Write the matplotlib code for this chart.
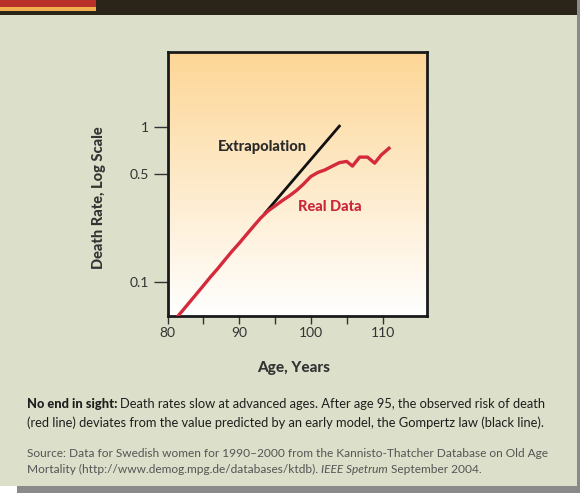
import numpy as np
import matplotlib.pyplot as plt
from matplotlib.patches import Rectangle

plt.rcParams['font.family'] = ['Lato', 'DejaVu Sans']

# Swedish women 1990-2000, death rate by age
ages = [81, 82, 83, 84, 85, 86, 87, 88, 89, 90, 91, 92, 93, 94, 95, 96, 97,
        98, 99, 100, 101, 102, 103, 104, 105, 105.8, 106.8, 107.9, 108.9, 109.8, 110.9]
death_rate = [0.057, 0.0646, 0.0734, 0.0834, 0.0948, 0.108, 0.122, 0.139, 0.158, 0.178,
              0.202, 0.229, 0.259, 0.287, 0.31, 0.335, 0.36, 0.39, 0.43,
              0.48, 0.51, 0.53, 0.56, 0.59, 0.60, 0.56, 0.64, 0.64, 0.585, 0.66, 0.73]

# Gompertz extrapolation (black line)
extrap_ages = [93.5, 104.1]
extrap_rate = [0.275, 1.03]

x_ticks = [80, 85, 90, 95, 100, 105, 110]
x_labels = ['80', '', '90', '', '100', '', '110']
y_ticks = [0.1, 0.5, 1]
y_labels = ['0.1', '0.5', '1']

W, H = 580, 493
fig = plt.figure(figsize=(W / 100, H / 100), dpi=100)
fig.patch.set_facecolor('#dcdfc9')


def px_rect(x0, y0, x1, y1, color):
    # rectangle in pixel coords measured from the top left
    fig.add_artist(Rectangle((x0 / W, 1 - y1 / H), (x1 - x0) / W, (y1 - y0) / H,
                             transform=fig.transFigure, color=color, lw=0, zorder=0))


# header bar and page edges
px_rect(0, 0, 578, 15, '#2b2519')
px_rect(0, 0, 96, 7, '#b8322a')
px_rect(0, 7, 96, 11, '#f0b050')
px_rect(577, 0, 580, 493, '#8a8a8a')
px_rect(0, 486, 17, 493, '#ffffff')
px_rect(17, 486, 580, 493, '#8a8a8a')

ax = fig.add_axes([167.5 / W, 1 - 316 / H, (427 - 167.5) / W, (316 - 52) / H])
ax.set_yscale('log')
ax.set_xlim(80, 116.2)
ax.set_ylim(0.0604, 3.05)

# peach-to-white gradient background
grad = np.linspace(0, 1, 256).reshape(-1, 1)
top = np.array([253, 214, 150]) / 255
bot = np.array([255, 255, 255]) / 255
img = top * (1 - grad[..., None]) + bot * grad[..., None]
img = np.repeat(img, 2, axis=1)
ax.imshow(img, extent=[0, 1, 0, 1], transform=ax.transAxes, aspect='auto', zorder=0)

ax.plot(extrap_ages, extrap_rate, color='#111111', lw=2.0, zorder=3, solid_capstyle='butt')
ax.plot(ages, death_rate, color='#d42a3c', lw=2.4, zorder=4, solid_joinstyle='round')

ax.text(93.3, 0.745, 'Extrapolation', fontsize=10.5, fontweight='black', color='#2a2a2a',
        ha='center', va='center')
ax.text(102.6, 0.305, 'Real Data', fontsize=10.5, fontweight='black', color='#c8283a',
        ha='center', va='center')

ax.set_xticks(x_ticks)
ax.set_xticklabels(x_labels)
ax.set_yticks(y_ticks)
ax.set_yticklabels(y_labels)
ax.minorticks_off()
ax.tick_params(axis='x', direction='out', length=6, width=1, color='#333333', labelsize=10,
               labelcolor='#333333', pad=2)
ax.tick_params(axis='y', direction='out', length=10, width=1, color='#333333', labelsize=10,
               labelcolor='#333333', pad=3)
for s in ax.spines.values():
    s.set_linewidth(2)
    s.set_color('#1a1a1a')

ax.set_xlabel('Age, Years', fontsize=11, fontweight='black', color='#333333')
ax.xaxis.set_label_coords(0.488, -0.17)
ax.set_ylabel('Death Rate, Log Scale', fontsize=10.5, fontweight='black', color='#333333')
ax.yaxis.set_label_coords(-0.238, 0.45)

# caption lines, built from consecutive styled pieces
renderer = fig.canvas.get_renderer()


def text_run(x, y, pieces, size, color):
    for txt, weight, style in pieces:
        t = fig.text(x / W, 1 - y / H, txt, fontsize=size, fontweight=weight, fontstyle=style,
                     color=color, va='baseline', ha='left')
        bb = t.get_window_extent(renderer)
        x += bb.width


text_run(27, 408, [('No end in sight: ', 'black', 'normal'),
                   ('Death rates slow at advanced ages. After age 95, the observed risk of death', 'normal', 'normal')],
         9.3, '#1e1e1e')
text_run(27, 427, [('(red line) deviates from the value predicted by an early model, the Gompertz law (black line).',
                    'normal', 'normal')], 9.3, '#1e1e1e')
text_run(27, 457, [('Source: Data for Swedish women for 1990\u20132000 from the Kannisto-Thatcher Database on Old Age',
                    'normal', 'normal')], 8.6, '#555555')
text_run(27, 473, [('Mortality (http://www.demog.mpg.de/databases/ktdb). ', 'normal', 'normal'),
                   ('IEEE Spetrum', 'normal', 'italic'),
                   (' September 2004.', 'normal', 'normal')], 8.6, '#555555')

fig.savefig('out.png', dpi=100, facecolor=fig.get_facecolor())
